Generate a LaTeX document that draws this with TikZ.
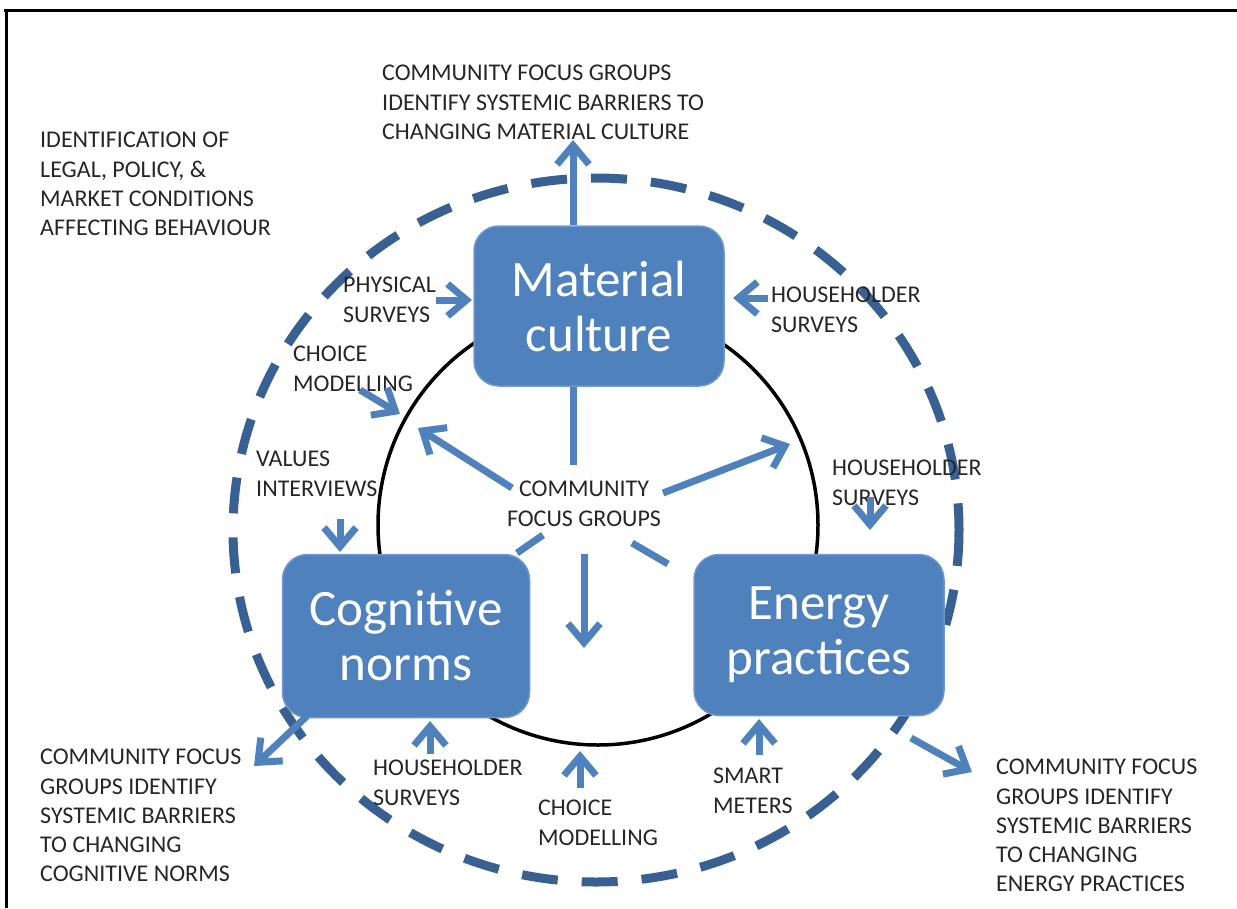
\documentclass[tikz,border=0pt]{standalone}
\usepackage{fontspec}
\setmainfont{Carlito}
\usetikzlibrary{arrows.meta}

\definecolor{boxblue}{RGB}{79,129,189}
\definecolor{boxedge}{RGB}{112,152,206}
\definecolor{ringblue}{RGB}{56,96,146}
\definecolor{labelgray}{RGB}{38,38,38}

\newcommand{\lblfont}{\fontsize{24}{29.3}\selectfont}
\newcommand{\boxfont}{\fontsize{51}{55}\selectfont}

\tikzset{
    box/.style={draw=boxedge, line width=1.5pt, fill=boxblue, rounded corners=25pt,
        text=white, font=\boxfont, align=center, inner sep=0pt},
    lbl/.style={font=\lblfont, text=labelgray, align=left, anchor=north west, inner sep=0pt},
    arr/.style={line width=7pt, draw=boxblue, -{Straight Barb[length=19pt, width=32pt]}},
    bar/.style={line width=7pt, draw=boxblue},
}

\begin{document}
\begin{tikzpicture}[x=1pt, y=-1pt]

    \useasboundingbox (0,0) rectangle (1237,908);

    % the frame
    \draw[line width=3pt] (4,10) -- (1237,10);
    \draw[line width=3pt] (6,10) -- (6,908);

    % the rings
    \draw[ringblue, line width=9pt, dash pattern=on 36pt off 24pt] (596,530) ellipse [x radius=363, y radius=352];
    \draw[line width=3.5pt] (598,525) circle [radius=220];

    % the boxes
    \node[box, minimum width=250pt, minimum height=160pt] (mat) at (599,306) {Material\\culture};
    \node[box, minimum width=247pt, minimum height=163pt] (cog) at (406,636) {Cognitive\\norms};
    \node[box, minimum width=250pt, minimum height=161pt] (ene) at (819,635) {Energy\\practices};

    % labels
    \node[lbl] (topcfg) at (382,65) {COMMUNITY FOCUS GROUPS\\IDENTIFY SYSTEMIC BARRIERS TO\\CHANGING MATERIAL CULTURE};
    \node[lbl] (legal) at (40,132) {IDENTIFICATION OF\\LEGAL, POLICY, \&\\MARKET CONDITIONS\\AFFECTING BEHAVIOUR};
    \node[lbl] (phys) at (343,277) {PHYSICAL\\SURVEYS};
    \node[lbl] (hhtop) at (771,287) {HOUSEHOLDER\\SURVEYS};
    \node[lbl] (chtop) at (293,346) {CHOICE\\MODELLING};
    \node[lbl] (vals) at (256,451) {VALUES\\INTERVIEWS};
    \node[lbl, align=center, anchor=north] (cfg) at (584,481) {COMMUNITY\\FOCUS GROUPS};
    \node[lbl] (hhright) at (832,460) {HOUSEHOLDER\\SURVEYS};
    \node[lbl] (leftcfg) at (40,749) {COMMUNITY FOCUS\\GROUPS IDENTIFY\\SYSTEMIC BARRIERS\\TO CHANGING\\COGNITIVE NORMS};
    \node[lbl] (hhbot) at (373,760) {HOUSEHOLDER\\SURVEYS};
    \node[lbl] (chbot) at (538,800) {CHOICE\\MODELLING};
    \node[lbl] (smart) at (713,768) {SMART\\METERS};
    \node[lbl] (rightcfg) at (996,759) {COMMUNITY FOCUS\\GROUPS IDENTIFY\\SYSTEMIC BARRIERS\\TO CHANGING\\ENERGY PRACTICES};

    % arrow ends
    \coordinate (up) at (573,140);
    \coordinate (ps1) at (436,300);   \coordinate (ps2) at (472,300);
    \coordinate (hs1) at (768,298);   \coordinate (hs2) at (733,298);
    \coordinate (cm1) at (360,390);   \coordinate (cm2) at (400,414);
    \coordinate (vi1) at (340,519);   \coordinate (vi2) at (340,552);
    \coordinate (hr1) at (870,497);   \coordinate (hr2) at (870,530);
    \coordinate (hb1) at (430,754);   \coordinate (hb2) at (430,721);
    \coordinate (cb1) at (580,788);   \coordinate (cb2) at (580,751);
    \coordinate (sm1) at (759,755);   \coordinate (sm2) at (759,719);
    \coordinate (bl1) at (307,716);   \coordinate (bl2) at (254,766);
    \coordinate (br1) at (911,738);   \coordinate (br2) at (972,772);
    \coordinate (cf1) at (512,488);   \coordinate (cf2) at (418,428);
    \coordinate (cf3) at (663,493);   \coordinate (cf4) at (790,444);
    \coordinate (cf5) at (584,554);   \coordinate (cf6) at (584,648);
    \coordinate (cl1) at (573,465);
    \coordinate (cl2) at (543,535);   \coordinate (cl3) at (517,553);
    \coordinate (cl4) at (632,543);   \coordinate (cl5) at (668,564);

    % the arrows
    \draw[arr] ([xshift=-26pt]mat.north) -- (up);
    \foreach \a/\b in {ps1/ps2, hs1/hs2, cm1/cm2, vi1/vi2, hr1/hr2, hb1/hb2, cb1/cb2,
                       sm1/sm2, bl1/bl2, br1/br2, cf1/cf2, cf3/cf4, cf5/cf6} {
        \draw[arr] (\a) -- (\b);
    }

    % plain spokes
    \draw[bar] ([xshift=-26pt]mat.south) -- (cl1);
    \draw[bar] (cl2) -- (cl3);
    \draw[bar] (cl4) -- (cl5);

\end{tikzpicture}
\end{document}
